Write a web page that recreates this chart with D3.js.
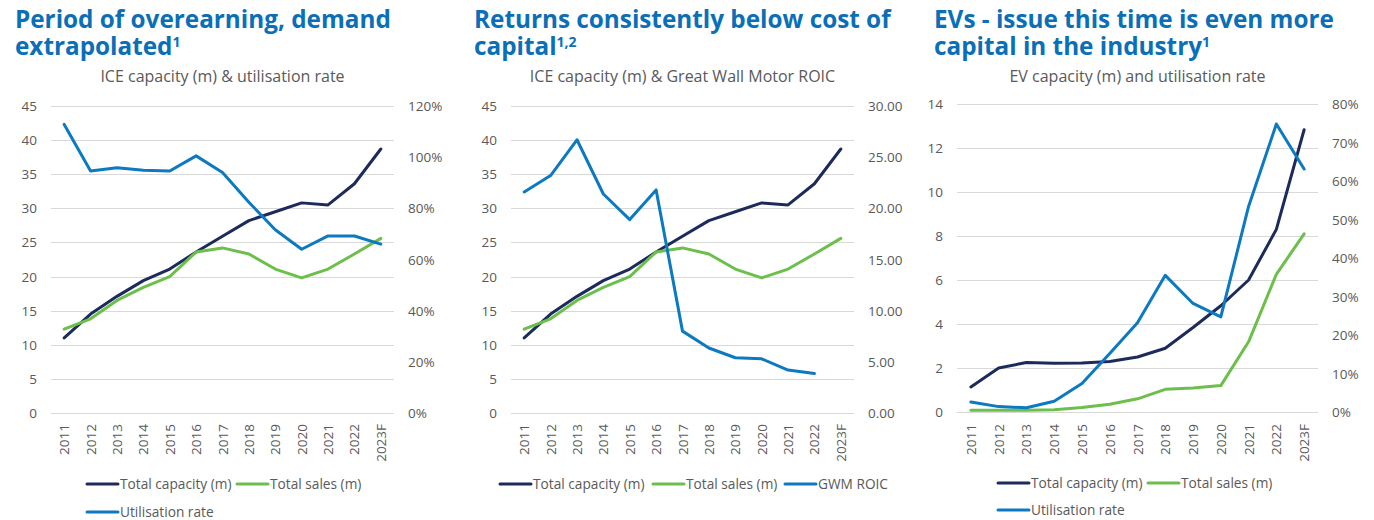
<!DOCTYPE html>
<html>
<head>
<meta charset="utf-8">
<script src="https://cdn.jsdelivr.net/npm/d3@7"></script>
<style>
	body { margin: 0; background: #fff; font-family: 'Open Sans', 'Noto Sans', sans-serif; }
	.title { fill: #0b6fb8; font-weight: 700; font-size: 24.3px; }
	.subtitle { fill: #595959; font-size: 16px; }
	.tick-label { fill: #595959; font-size: 13.5px; }
	.legend-label { fill: #595959; font-size: 13.7px; }
	.grid { stroke: #d9d9d9; stroke-width: 1; }
	.series { fill: none; stroke-width: 3; stroke-linejoin: round; stroke-linecap: round; }
</style>
</head>
<body>
<script>
var years = ['2011', '2012', '2013', '2014', '2015', '2016', '2017', '2018', '2019', '2020', '2021', '2022', '2023F'];

var iceCapacity = [11.0, 14.5, 17.1, 19.4, 21.1, 23.6, 25.9, 28.2, 29.5, 30.8, 30.5, 33.6, 38.7];
var iceSales = [12.3, 13.8, 16.5, 18.4, 20.0, 23.6, 24.2, 23.3, 21.1, 19.8, 21.1, 23.3, 25.6];
var iceUtilisation = [112.8, 94.6, 95.9, 94.9, 94.6, 100.5, 94.0, 82.4, 71.6, 64.0, 69.2, 69.2, 66.0];
var gwmRoic = [21.6, 23.2, 26.7, 21.4, 18.9, 21.8, 8.0, 6.35, 5.4, 5.3, 4.2, 3.85, null];

var evCapacity = [1.14, 2.0, 2.25, 2.22, 2.23, 2.3, 2.5, 2.9, 3.84, 4.83, 6.0, 8.3, 12.83];
var evSales = [0.08, 0.08, 0.08, 0.1, 0.2, 0.35, 0.6, 1.03, 1.09, 1.2, 3.19, 6.26, 8.1];
var evUtilisation = [2.6, 1.4, 1.1, 2.8, 7.4, 15.2, 23.2, 35.5, 28.2, 24.7, 53.4, 74.8, 63.1];

var iceLeftTicks = [0, 5, 10, 15, 20, 25, 30, 35, 40, 45];
var utilTicks120 = [0, 20, 40, 60, 80, 100, 120];
var roicTicks = [0, 5, 10, 15, 20, 25, 30];
var evLeftTicks = [0, 2, 4, 6, 8, 10, 12, 14];
var utilTicks80 = [0, 10, 20, 30, 40, 50, 60, 70, 80];

var colors = { capacity: '#1c2b5b', sales: '#6cbf4a', third: '#0c79c0' };

var svg = d3.select('body')
	.append('svg')
	.attr('width', 1374)
	.attr('height', 520);

function drawPanel(p) {
	var g = svg.append('g');

	// two-line title in one text element, superscript note on line 2
	var title = g.append('text')
		.attr('class', 'title')
		.attr('x', p.titleX)
		.attr('y', 28);
	title.append('tspan').text(p.title[0]);
	title.append('tspan')
		.attr('x', p.titleX)
		.attr('y', 55)
		.text(p.title[1]);
	title.append('tspan')
		.attr('font-size', '14px')
		.attr('dy', -8)
		.text(p.note);

	g.append('text')
		.attr('class', 'subtitle')
		.attr('x', (p.x0 + p.x1) / 2)
		.attr('y', 82)
		.attr('text-anchor', 'middle')
		.text(p.subtitle);

	var x = d3.scaleBand().domain(years).range([p.x0, p.x1]);
	var yL = d3.scaleLinear().domain([0, p.leftMax]).range([p.yBottom, p.yTop]);
	var yR = d3.scaleLinear().domain([0, p.rightMax]).range([p.yBottom, p.yTop]);

	g.selectAll('line.grid')
		.data(p.leftTicks)
		.enter()
		.append('line')
		.attr('class', 'grid')
		.attr('x1', p.x0)
		.attr('x2', p.x1)
		.attr('y1', function(d) { return Math.round(yL(d)) + 0.5; })
		.attr('y2', function(d) { return Math.round(yL(d)) + 0.5; });

	g.selectAll('text.left')
		.data(p.leftTicks)
		.enter()
		.append('text')
		.attr('class', 'tick-label left')
		.attr('x', p.x0 - 14)
		.attr('y', function(d) { return yL(d) + 5; })
		.attr('text-anchor', 'end')
		.text(function(d) { return d; });

	g.selectAll('text.right')
		.data(p.rightTicks)
		.enter()
		.append('text')
		.attr('class', 'tick-label right')
		.attr('x', p.x1 + 14)
		.attr('y', function(d) { return yR(d) + 5; })
		.text(p.rightFormat);

	g.selectAll('text.year')
		.data(years)
		.enter()
		.append('text')
		.attr('class', 'tick-label year')
		.attr('text-anchor', 'end')
		.attr('transform', function(d) {
			return 'translate(' + (x(d) + x.bandwidth() / 2 + 5) + ',424) rotate(-90)';
		})
		.text(function(d) { return d; });

	var cx = function(d, i) { return x(years[i]) + x.bandwidth() / 2; };

	var series = [
		{ values: p.capacity, color: colors.capacity, scale: yL },
		{ values: p.sales, color: colors.sales, scale: yL },
		{ values: p.third, color: colors.third, scale: yR }
	];

	series.forEach(function(s) {
		var line = d3.line()
			.defined(function(d) { return d !== null; })
			.x(cx)
			.y(function(d) { return s.scale(d); });
		g.append('path')
			.attr('class', 'series')
			.attr('stroke', s.color)
			.attr('d', line(s.values));
	});

	var legend = g.selectAll('g.legend')
		.data(p.legend)
		.enter()
		.append('g')
		.attr('class', 'legend')
		.attr('transform', function(d) { return 'translate(' + d.x + ',' + d.y + ')'; });

	legend.append('line')
		.attr('x1', 0)
		.attr('x2', 31)
		.attr('stroke', function(d) { return d.color; })
		.attr('stroke-width', 3)
		.attr('stroke-linecap', 'round');

	legend.append('text')
		.attr('class', 'legend-label')
		.attr('x', 33)
		.attr('y', 5)
		.text(function(d) { return d.label; });
}

var pct = function(d) { return d + '%'; };

drawPanel({
	title: ['Period of overearning, demand', 'extrapolated'],
	note: '1',
	titleX: 15,
	subtitle: 'ICE capacity (m) & utilisation rate',
	x0: 51, x1: 394, yTop: 106, yBottom: 413,
	leftMax: 45, rightMax: 120,
	leftTicks: iceLeftTicks, rightTicks: utilTicks120, rightFormat: pct,
	capacity: iceCapacity, sales: iceSales, third: iceUtilisation,
	legend: [
		{ label: 'Total capacity (m)', color: colors.capacity, x: 87, y: 484 },
		{ label: 'Total sales (m)', color: colors.sales, x: 237, y: 484 },
		{ label: 'Utilisation rate', color: colors.third, x: 87, y: 512 }
	]
});

drawPanel({
	title: ['Returns consistently below cost of', 'capital'],
	note: '1,2',
	titleX: 474,
	subtitle: 'ICE capacity (m) & Great Wall Motor ROIC',
	x0: 511, x1: 854, yTop: 106, yBottom: 413,
	leftMax: 45, rightMax: 30,
	leftTicks: iceLeftTicks, rightTicks: roicTicks, rightFormat: function(d) { return d.toFixed(2); },
	capacity: iceCapacity, sales: iceSales, third: gwmRoic,
	legend: [
		{ label: 'Total capacity (m)', color: colors.capacity, x: 500, y: 484 },
		{ label: 'Total sales (m)', color: colors.sales, x: 653, y: 484 },
		{ label: 'GWM ROIC', color: colors.third, x: 785, y: 484 }
	]
});

drawPanel({
	title: ['EVs - issue this time is even more', 'capital in the industry'],
	note: '1',
	titleX: 934,
	subtitle: 'EV capacity (m) and utilisation rate',
	x0: 957, x1: 1318, yTop: 104, yBottom: 412,
	leftMax: 14, rightMax: 80,
	leftTicks: evLeftTicks, rightTicks: utilTicks80, rightFormat: pct,
	capacity: evCapacity, sales: evSales, third: evUtilisation,
	legend: [
		{ label: 'Total capacity (m)', color: colors.capacity, x: 998, y: 483 },
		{ label: 'Total sales (m)', color: colors.sales, x: 1148, y: 483 },
		{ label: 'Utilisation rate', color: colors.third, x: 998, y: 510 }
	]
});
</script>
</body>
</html>
